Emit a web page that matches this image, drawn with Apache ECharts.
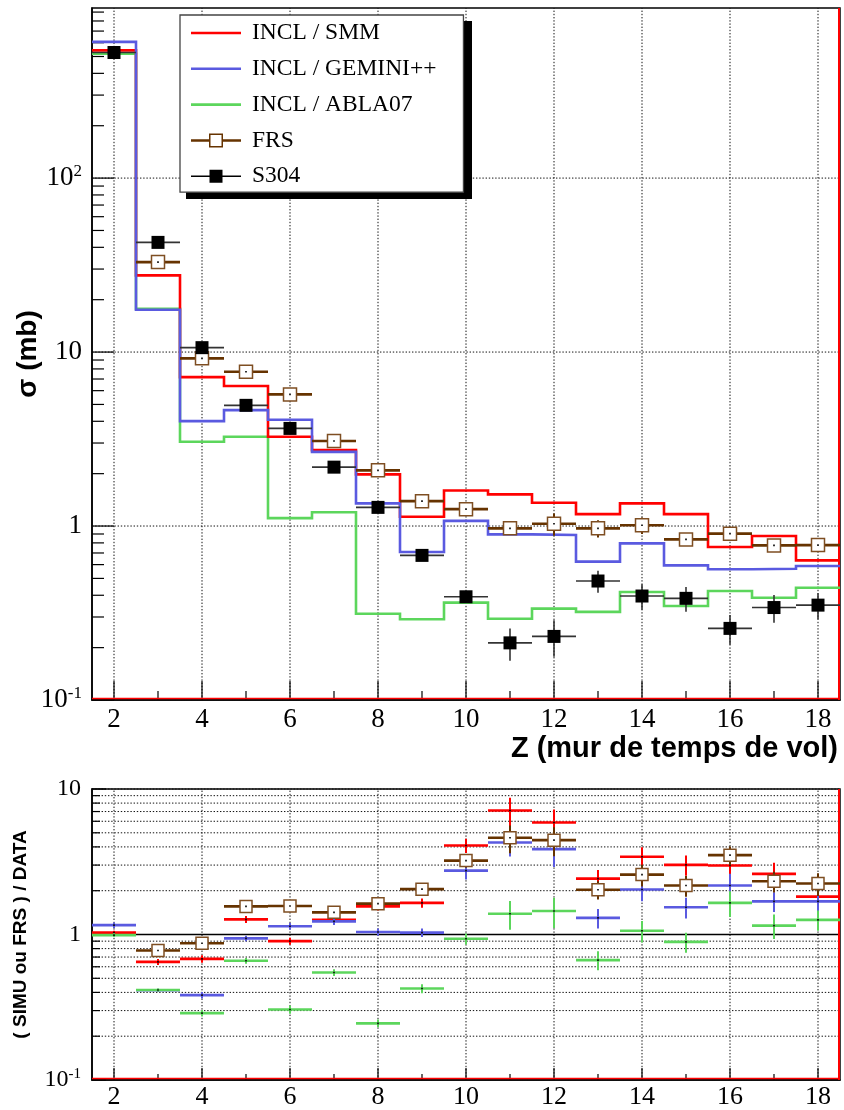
<!DOCTYPE html>
<html>
<head>
<meta charset="utf-8">
<script src="https://cdn.jsdelivr.net/npm/echarts@6.0.0/dist/echarts.min.js"></script>
<style>
html,body{margin:0;padding:0;background:#fff;}
#chart{width:844px;height:1110px;}
</style>
</head>
<body>
<div id="chart"></div>
<script>
// ---------------- data ----------------
const Z = [2,3,4,5,6,7,8,9,10,11,12,13,14,15,16,17,18];

// top panel: cross sections (mb)
const smm    = [542,27.6,7.18,6.38,3.26,2.73,1.98,1.13,1.60,1.52,1.36,1.17,1.35,1.17,0.757,0.877,0.635];
const gemini = [607,17.5,4.01,4.64,4.08,2.67,1.35,0.709,1.07,0.896,0.888,0.624,0.795,0.594,0.564,0.568,0.589];
const abla   = [518,17.7,3.05,3.26,1.11,1.20,0.313,0.291,0.363,0.293,0.335,0.321,0.418,0.347,0.423,0.387,0.442];
const frs    = [null,32.9,9.2,7.7,5.71,3.08,2.09,1.39,1.25,0.97,1.03,0.97,1.01,0.838,0.904,0.774,0.777];
const frsErr = [null,1.0,0.3,0.2,0.15,0.08,0.06,0.05,0.06,0.06,0.15,0.11,0.11,0.05,0.05,0.04,0.04];
const s304   = [527,42.7,10.6,4.94,3.64,2.18,1.28,0.678,0.392,0.213,0.232,0.483,0.396,0.384,0.258,0.340,0.351];
const s304Err= [5,1.5,0.4,0.2,0.15,0.08,0.06,0.04,0.03,0.045,0.055,0.07,0.066,0.062,0.05,0.062,0.06];

// bottom panel: ratios (SIMU or FRS) / DATA
const ratioSmm     = [1.03,0.648,0.68,1.27,0.90,1.26,1.56,1.65,4.09,7.11,5.89,2.42,3.42,3.01,2.98,2.61,1.82];
const ratioSmmErr  = [0.03,0.03,0.04,0.07,0.05,0.05,0.1,0.12,0.46,1.6,1.34,0.35,0.56,0.48,0.55,0.5,0.42];
const ratioGem     = [1.16,0.414,0.383,0.94,1.14,1.23,1.04,1.03,2.75,4.29,3.86,1.30,2.04,1.54,2.17,1.69,1.69];
const ratioGemErr  = [0.05,0.01,0.02,0.04,0.06,0.07,0.06,0.07,0.36,0.85,0.95,0.2,0.35,0.25,0.45,0.26,0.4];
const ratioAbla    = [0.99,0.415,0.288,0.66,0.305,0.548,0.245,0.425,0.934,1.39,1.45,0.667,1.06,0.89,1.65,1.15,1.26];
const ratioAblaErr = [0.03,0.01,0.015,0.03,0.02,0.03,0.015,0.03,0.08,0.31,0.34,0.1,0.18,0.14,0.33,0.22,0.2];
const ratioFrs     = [null,0.776,0.871,1.56,1.57,1.42,1.63,2.05,3.22,4.62,4.45,2.03,2.58,2.17,3.51,2.32,2.24];
const ratioFrsErr  = [null,0.03,0.04,0.08,0.06,0.07,0.09,0.1,0.34,1.0,1.0,0.29,0.44,0.35,0.52,0.38,0.4];

// axis ticks / labels
const xLabels   = [2,4,6,8,10,12,14,16,18];
const xMinor    = [3,5,7,9,11,13,15,17];
const topYLabels= [0.1,1,10,100];
const botYLabels= [0.1,1,10];
const mult      = [2,3,4,5,6,7,8,9];
const topYMinor = [0.1,1,10,100].flatMap(d => mult.map(m => m*d)).filter(v => v < 950);
const botYMinor = [0.1,1].flatMap(d => mult.map(m => m*d));

// ---------------- helpers ----------------
const SERIF = '"Liberation Serif","Times New Roman",serif';
const SANS  = '"Liberation Sans",Arial,Helvetica,sans-serif';
const RED = '#ff0000', BLUE = '#5a5ae0', GREEN = '#5cd65c', BROWN = '#663300', BROWN2 = '#7e4e22';

function stepData(vals){
  const d = [];
  Z.forEach((z,i) => { if (vals[i] == null) return; d.push([z-0.5, vals[i]]); d.push([z+0.5, vals[i]]); });
  return d;
}
function pointData(vals, errs){
  const d = [];
  Z.forEach((z,i) => { if (vals[i] == null) return; d.push([z, vals[i], errs[i]]); });
  return d;
}
function seg(a, b, style){ return {type:'line', shape:{x1:a[0],y1:a[1],x2:b[0],y2:b[1]}, style:style}; }

function pointRender(o){
  return function(params, api){
    const z = api.value(0), v = api.value(1), e = api.value(2);
    const c = api.coord([z, v]);
    const l = api.coord([z-0.5, v]), r = api.coord([z+0.5, v]);
    const t = api.coord([z, v+e]);
    const lo = (v - e > 0) ? v - e : v * 0.05;
    const b = api.coord([z, lo]);
    const ch = [];
    ch.push(seg(l, r, {stroke:o.hColor, lineWidth:o.hWidth}));
    ch.push(seg(t, b, {stroke:o.vColor, lineWidth:o.vWidth}));
    const s = o.size || 0;
    if (o.marker === 'filled') {
      ch.push({type:'rect', shape:{x:c[0]-s/2, y:c[1]-s/2, width:s, height:s}, style:{fill:o.mColor}});
    } else if (o.marker === 'open') {
      ch.push({type:'rect', shape:{x:c[0]-s/2, y:c[1]-s/2, width:s, height:s}, style:{fill:'#fff', stroke:o.mColor, lineWidth:1.5}});
      ch.push({type:'rect', shape:{x:c[0]-0.8, y:c[1]-0.8, width:1.6, height:1.6}, style:{fill:'#000'}});
    } else if (o.dot) {
      ch.push({type:'rect', shape:{x:c[0]-0.8, y:c[1]-0.8, width:1.6, height:1.6}, style:{fill:'#000'}});
    }
    return {type:'group', children:ch};
  };
}

function decoRender(cfg){
  return function(params, api){
    const ch = [];
    const dot = {stroke:'#111', lineWidth:1, lineDash:[1.4,1.8]};
    cfg.vGrid.forEach(v => ch.push(seg(api.coord([v, cfg.yMin]), api.coord([v, cfg.yMax]), dot)));
    cfg.hGrid.forEach(v => ch.push(seg(api.coord([cfg.xMin, v]), api.coord([cfg.xMax, v]), dot)));
    const tk = {stroke:'#000', lineWidth:1.2};
    cfg.xMajor.forEach(v => { const a = api.coord([v, cfg.yMin]); ch.push(seg(a, [a[0], a[1]-cfg.xMajLen], tk)); });
    cfg.xMinorT.forEach(v => { const a = api.coord([v, cfg.yMin]); ch.push(seg(a, [a[0], a[1]-cfg.xMinLen], tk)); });
    cfg.yMajor.forEach(v => { const a = api.coord([cfg.xMin, v]); ch.push(seg(a, [a[0]+cfg.yMajLen, a[1]], tk)); });
    cfg.yMinorT.forEach(v => { const a = api.coord([cfg.xMin, v]); ch.push(seg(a, [a[0]+cfg.yMinLen, a[1]], tk)); });
    if (cfg.oneLine) {
      ch.push(seg(api.coord([cfg.xMin, 1]), api.coord([cfg.xMax, 1]), {stroke:'#000', lineWidth:1.6}));
    }
    // red right / bottom edges
    const br = api.coord([cfg.xMax, cfg.yMin]), tr = api.coord([cfg.xMax, cfg.yMax]), bl = api.coord([cfg.xMin, cfg.yMin]);
    ch.push(seg([br[0]-1, br[1]], [tr[0]-1, tr[1]], {stroke:RED, lineWidth:2}));
    ch.push(seg([bl[0], bl[1]-1.5], [br[0], br[1]-1.5], {stroke:RED, lineWidth:1.5}));
    return {type:'group', children:ch};
  };
}

function powLabel(v){
  const e = Math.round(Math.log10(v));
  if (e === 0) return '{n|1}';
  if (e === 1) return '{n|10}';
  return '{n|10}{s|' + e + '}';
}

const lineIcon = 'path://M0,0h50v2.6h-50z';
const frsIcon  = 'path://M0,5.75h18v2.5h-18z M18,0h14v14h-14z M19.5,1.5v11h11v-11z M32,5.75h18v2.5h-18z';
const s304Icon = 'path://M0,6.25h18.5v1.5h-18.5z M18.5,0.5h13v13h-13z M31.5,6.25h18.5v1.5h-18.5z';

const topCfg = {xMin:1.5, xMax:18.5, yMin:0.1, yMax:950, vGrid:xLabels, hGrid:topYLabels,
  xMajor:xLabels, xMinorT:xMinor, yMajor:topYLabels, yMinorT:topYMinor,
  xMajLen:19, xMinLen:9, yMajLen:22, yMinLen:12, oneLine:false};
const botCfg = {xMin:1.5, xMax:18.5, yMin:0.1, yMax:10, vGrid:xLabels, hGrid:botYLabels.concat(botYMinor),
  xMajor:xLabels, xMinorT:xMinor, yMajor:botYLabels, yMinorT:botYMinor,
  xMajLen:12, xMinLen:6, yMajLen:14, yMinLen:8, oneLine:true};

const chart = echarts.init(document.getElementById('chart'));

const option = {
  animation: false,
  backgroundColor: '#fff',
  grid: [
    {left:92, right:4, top:8, bottom:410, show:true, borderColor:'#000', borderWidth:1.5, backgroundColor:'#fff'},
    {left:92, right:4, top:789, bottom:30, show:true, borderColor:'#000', borderWidth:1.5, backgroundColor:'#fff'}
  ],
  graphic: [
    // legend drop shadow
    {type:'rect', left:186, top:21, shape:{width:286, height:178}, style:{fill:'#000'}, z:90, silent:true}
  ],
  xAxis: [
    {type:'value', gridIndex:0, min:1.5, max:18.5,
     axisLine:{lineStyle:{color:'#000', width:1.5}}, axisTick:{show:false}, splitLine:{show:false},
     axisLabel:{customValues:xLabels, fontFamily:SERIF, fontSize:27, color:'#000', margin:6},
     name:'Z (mur de temps de vol)', nameLocation:'end', nameGap:-2, nameMoveOverlap:false,
     nameTextStyle:{fontFamily:SANS, fontWeight:'bold', fontSize:29, color:'#000', align:'right', verticalAlign:'top', padding:[34,0,0,0]}},
    {type:'value', gridIndex:1, min:1.5, max:18.5,
     axisLine:{lineStyle:{color:'#000', width:1.5}}, axisTick:{show:false}, splitLine:{show:false},
     axisLabel:{customValues:xLabels, fontFamily:SERIF, fontSize:26, color:'#000', margin:4}}
  ],
  yAxis: [
    {type:'log', logBase:10, gridIndex:0, min:0.1, max:950,
     axisLine:{show:true, lineStyle:{color:'#000', width:1.5}}, axisTick:{show:false}, splitLine:{show:false}, minorTick:{show:false},
     axisLabel:{customValues:topYLabels, formatter:powLabel, margin:10,
       rich:{n:{fontFamily:SERIF, fontSize:27, color:'#000', lineHeight:30},
             s:{fontFamily:SERIF, fontSize:17, color:'#000', lineHeight:22, verticalAlign:'top'}}},
     name:'σ (mb)', nameLocation:'middle', nameRotate:90, nameGap:50, nameMoveOverlap:false,
     nameTextStyle:{fontFamily:SANS, fontWeight:'bold', fontSize:28, color:'#000'}},
    {type:'log', logBase:10, gridIndex:1, min:0.1, max:10,
     axisLine:{show:true, lineStyle:{color:'#000', width:1.5}}, axisTick:{show:false}, splitLine:{show:false}, minorTick:{show:false},
     axisLabel:{customValues:botYLabels, formatter:powLabel, margin:11,
       rich:{n:{fontFamily:SERIF, fontSize:24, color:'#000', lineHeight:26},
             s:{fontFamily:SERIF, fontSize:15, color:'#000', lineHeight:19, verticalAlign:'top'}}},
     name:'( SIMU ou FRS ) / DATA', nameLocation:'middle', nameRotate:90, nameGap:62, nameMoveOverlap:false,
     nameTextStyle:{fontFamily:SANS, fontWeight:'bold', fontSize:19, color:'#000'}}
  ],
  legend: {
    left:180, top:15, width:248, orient:'vertical', selectedMode:false, z:100,
    itemWidth:50, itemHeight:14, itemGap:9.8, padding:[5,27,3,11],
    textStyle:{fontFamily:SERIF, fontSize:23.5, color:'#000', lineHeight:26, padding:[0,0,0,6]},
    itemStyle:{borderWidth:0},
    backgroundColor:'#fff', borderColor:'#444', borderWidth:1.3,
    data:[
      {name:'INCL / SMM', icon:lineIcon},
      {name:'INCL / GEMINI++', icon:lineIcon},
      {name:'INCL / ABLA07', icon:lineIcon},
      {name:'FRS', icon:frsIcon},
      {name:'S304', icon:s304Icon}
    ]
  },
  series: [
    {name:'grid-top', type:'custom', xAxisIndex:0, yAxisIndex:0, silent:true, z:1,
     data:[[2,1]], renderItem:decoRender(topCfg)},
    {name:'grid-bottom', type:'custom', xAxisIndex:1, yAxisIndex:1, silent:true, z:1,
     data:[[2,1]], renderItem:decoRender(botCfg)},

    {name:'INCL / ABLA07', type:'line', xAxisIndex:0, yAxisIndex:0, data:stepData(abla), symbol:'none', z:3,
     lineStyle:{color:GREEN, width:2.6, join:'miter', cap:'butt'}, itemStyle:{color:GREEN}},
    {name:'INCL / SMM', type:'line', xAxisIndex:0, yAxisIndex:0, data:stepData(smm), symbol:'none', z:3,
     lineStyle:{color:RED, width:2.6, join:'miter', cap:'butt'}, itemStyle:{color:RED}},
    {name:'INCL / GEMINI++', type:'line', xAxisIndex:0, yAxisIndex:0, data:stepData(gemini), symbol:'none', z:3,
     lineStyle:{color:BLUE, width:2.6, join:'miter', cap:'butt'}, itemStyle:{color:BLUE}},

    {name:'FRS', type:'custom', xAxisIndex:0, yAxisIndex:0, z:4, itemStyle:{color:BROWN},
     data:pointData(frs, frsErr), encode:{x:0, y:1},
     renderItem:pointRender({hColor:BROWN, hWidth:2.6, vColor:BROWN, vWidth:2, marker:'open', size:13, mColor:BROWN2})},
    {name:'S304', type:'custom', xAxisIndex:0, yAxisIndex:0, z:5, itemStyle:{color:'#000'},
     data:pointData(s304, s304Err), encode:{x:0, y:1},
     renderItem:pointRender({hColor:'#333', hWidth:1.6, vColor:'#333', vWidth:1.6, marker:'filled', size:13, mColor:'#000'})},

    {name:'SMM / DATA', type:'custom', xAxisIndex:1, yAxisIndex:1, z:3, itemStyle:{color:RED},
     data:pointData(ratioSmm, ratioSmmErr), encode:{x:0, y:1},
     renderItem:pointRender({hColor:RED, hWidth:2.6, vColor:RED, vWidth:2, dot:true})},
    {name:'GEMINI++ / DATA', type:'custom', xAxisIndex:1, yAxisIndex:1, z:3, itemStyle:{color:BLUE},
     data:pointData(ratioGem, ratioGemErr), encode:{x:0, y:1},
     renderItem:pointRender({hColor:BLUE, hWidth:2.6, vColor:BLUE, vWidth:2, dot:true})},
    {name:'ABLA07 / DATA', type:'custom', xAxisIndex:1, yAxisIndex:1, z:3, itemStyle:{color:GREEN},
     data:pointData(ratioAbla, ratioAblaErr), encode:{x:0, y:1},
     renderItem:pointRender({hColor:GREEN, hWidth:2.6, vColor:GREEN, vWidth:2, dot:true})},
    {name:'FRS / DATA', type:'custom', xAxisIndex:1, yAxisIndex:1, z:4, itemStyle:{color:BROWN},
     data:pointData(ratioFrs, ratioFrsErr), encode:{x:0, y:1},
     renderItem:pointRender({hColor:BROWN, hWidth:2.6, vColor:BROWN, vWidth:2, marker:'open', size:12, mColor:BROWN2})}
  ]
};
chart.setOption(option);
</script>
</body>
</html>
